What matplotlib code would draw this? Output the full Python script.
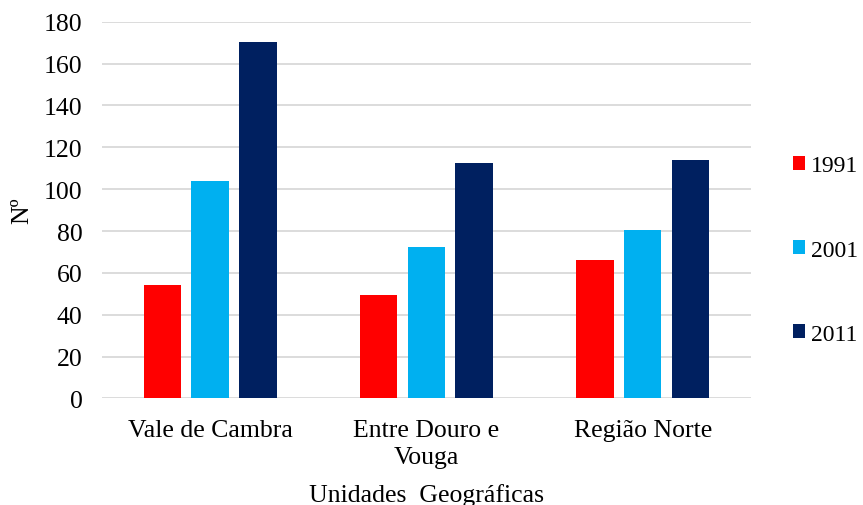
import matplotlib.pyplot as plt
import numpy as np

plt.rcParams['font.family'] = ['Liberation Serif', 'DejaVu Serif']

# unidades geográficas e anos censitários
regioes = ["Vale de Cambra", "Entre Douro e\nVouga", "Região Norte"]
anos = ["1991", "2001", "2011"]
v1991 = [54.4, 49.4, 66.0]
v2001 = [104.1, 72.2, 80.5]
v2011 = [170.2, 112.4, 114.1]
cores = ["#FF0000", "#00B0F0", "#002060"]

fs = 18.5

fig = plt.figure(figsize=(8.63, 5.06), dpi=100)
ax = fig.add_axes([0.1182, 0.2105, 0.7518, 0.7446])

x = np.arange(len(regioes))
largura = 0.174
passo = 0.221
series = [v1991, v2001, v2011]
barras = []
for i, (vals, cor) in enumerate(zip(series, cores)):
    b = ax.bar(x + (i - 1) * passo, vals, largura, color=cor, label=anos[i], zorder=3)
    barras.append(b)

ax.set_xlim(-0.5, 2.5)
ax.set_ylim(0, 180)
ax.set_yticks(np.arange(0, 181, 20))
ax.set_xticks(x)
ax.set_xticklabels(regioes, fontsize=fs, linespacing=1.3)
ax.tick_params(axis='y', labelsize=fs, length=0, pad=14)
ax.tick_params(axis='x', length=0, pad=15)
ax.yaxis.grid(True, color="#d9d9d9", linewidth=1.3, zorder=0)
for s in ax.spines.values():
    s.set_visible(False)

# títulos dos eixos
fig.text(0.494, 0.0085, "Unidades  Geográficas", fontsize=fs, ha='center', va='baseline')
fig.text(0.026, 0.583, "Nº", rotation=90, fontsize=fs, ha='center', va='center')

ax.legend(handles=barras, loc='center left', bbox_to_anchor=(1.043, 0.394),
          frameon=False, fontsize=17, handlelength=0.5, handleheight=0.5,
          handletextpad=0.25, labelspacing=2.67, borderaxespad=0.2)

fig.savefig("out.png", dpi=100)
